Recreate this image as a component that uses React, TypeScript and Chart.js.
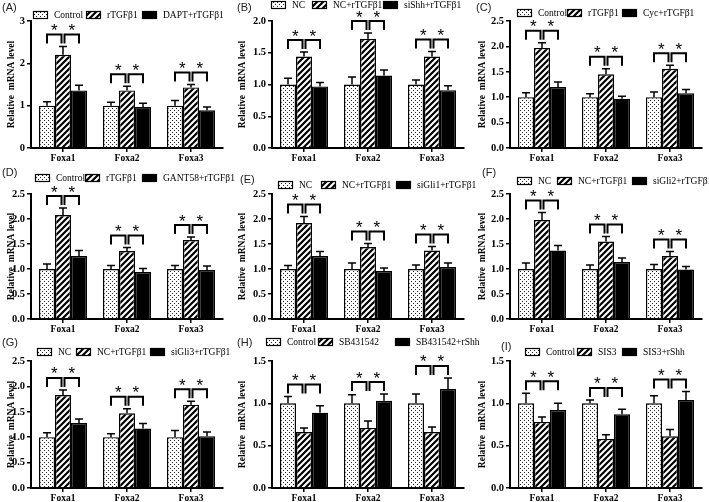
import React, { useEffect, useRef } from "react";
import { Chart, registerables } from "chart.js";

Chart.register(...registerables);

// ---------------- DATA ----------------
const CATEGORIES = ["Foxa1", "Foxa2", "Foxa3"];
const SIG_MARK = "*";

const A_SERIES = ["Control", "rTGFβ1", "DAPT+rTGFβ1"];
const A_MEANS = [[1.0, 1.0, 1.0], [2.2, 1.36, 1.43], [1.36, 0.97, 0.89]];
const A_ERRORS = [[0.09, 0.08, 0.12], [0.2, 0.1, 0.07], [0.12, 0.09, 0.08]];
const A_TICKS = ["0", "1", "2", "3"];

const B_SERIES = ["NC", "NC+rTGFβ1", "siShh+rTGFβ1"];
const B_MEANS = [[1.0, 1.0, 1.0], [1.44, 1.72, 1.44], [0.97, 1.14, 0.91]];
const B_ERRORS = [[0.1, 0.12, 0.07], [0.07, 0.09, 0.08], [0.06, 0.09, 0.07]];
const B_TICKS = ["0.0", "0.5", "1.0", "1.5", "2.0"];

const C_SERIES = ["Control", "rTGFβ1", "Cyc+rTGFβ1"];
const C_MEANS = [[1.0, 1.0, 1.0], [1.97, 1.45, 1.56], [1.2, 0.97, 1.08]];
const C_ERRORS = [[0.09, 0.07, 0.1], [0.1, 0.11, 0.07], [0.1, 0.05, 0.07]];
const C_TICKS = ["0.0", "0.5", "1.0", "1.5", "2.0", "2.5"];

const D_SERIES = ["Control", "rTGFβ1", "GANT58+rTGFβ1"];
const D_MEANS = [[1.0, 1.0, 1.0], [2.08, 1.36, 1.58], [1.26, 0.94, 0.98]];
const D_ERRORS = [[0.1, 0.07, 0.07], [0.14, 0.07, 0.06], [0.11, 0.07, 0.08]];
const D_TICKS = ["0.0", "0.5", "1.0", "1.5", "2.0", "2.5"];

const E_SERIES = ["NC", "NC+rTGFβ1", "siGli1+rTGFβ1"];
const E_MEANS = [[1.0, 1.0, 1.0], [1.92, 1.44, 1.37], [1.26, 0.96, 1.04]];
const E_ERRORS = [[0.07, 0.12, 0.08], [0.13, 0.07, 0.08], [0.09, 0.06, 0.08]];
const E_TICKS = ["0.0", "0.5", "1.0", "1.5", "2.0", "2.5"];

const F_SERIES = ["NC", "NC+rTGFβ1", "siGli2+rTGFβ1"];
const F_MEANS = [[1.0, 1.0, 1.0], [1.98, 1.55, 1.26], [1.37, 1.14, 0.99]];
const F_ERRORS = [[0.12, 0.08, 0.09], [0.15, 0.1, 0.09], [0.1, 0.08, 0.06]];
const F_TICKS = ["0.0", "0.5", "1.0", "1.5", "2.0", "2.5"];

const G_SERIES = ["NC", "NC+rTGFβ1", "siGli3+rTGFβ1"];
const G_MEANS = [[1.0, 1.0, 1.0], [1.83, 1.47, 1.64], [1.28, 1.17, 1.02]];
const G_ERRORS = [[0.09, 0.07, 0.13], [0.1, 0.09, 0.07], [0.08, 0.1, 0.08]];
const G_TICKS = ["0.0", "0.5", "1.0", "1.5", "2.0", "2.5"];

const H_SERIES = ["Control", "SB431542", "SB431542+rShh"];
const H_MEANS = [[1.0, 1.0, 1.0], [0.66, 0.71, 0.66], [0.89, 1.03, 1.17]];
const H_ERRORS = [[0.08, 0.1, 0.11], [0.05, 0.08, 0.06], [0.08, 0.08, 0.13]];
const H_TICKS = ["0.0", "0.5", "1.0", "1.5"];

const I_SERIES = ["Control", "SIS3", "SIS3+rShh"];
const I_MEANS = [[1.0, 1.0, 1.0], [0.78, 0.58, 0.61], [0.92, 0.87, 1.04]];
const I_ERRORS = [[0.12, 0.04, 0.09], [0.06, 0.05, 0.08], [0.08, 0.06, 0.1]];
const I_TICKS = ["0.0", "0.5", "1.0", "1.5"];

const Y_TITLE = "Relative  mRNA level";

// ---------------- LAYOUT ----------------
const COL_X = [0, 235, 470];
const ROW_Y = [0, 165, 330];
const CANVAS_W = [262, 262, 239];
const CANVAS_H = 172;
const AREA_LEFT = [31, 272, 510];
const AREA_RIGHT = [223, 464, 702];
const AREA_TOP = [21, 194, 361];
const AREA_BOTTOM = [148, 319, 488];
const TITLE_X = [12, 243, 483];

type Panel = {
  key: string;
  col: number;
  row: number;
  series: string[];
  means: number[][];
  errors: number[][];
  ticks: string[];
  legendX: number[];
  legendY: number;
  labelX: number;
  labelY: number;
};

const PANELS: Panel[] = [
  { key: "A", col: 0, row: 0, series: A_SERIES, means: A_MEANS, errors: A_ERRORS, ticks: A_TICKS, legendX: [33, 86, 142], legendY: 15, labelX: 2, labelY: 2 },
  { key: "B", col: 1, row: 0, series: B_SERIES, means: B_MEANS, errors: B_ERRORS, ticks: B_TICKS, legendX: [271, 312, 383], legendY: 5, labelX: 237, labelY: 2 },
  { key: "C", col: 2, row: 0, series: C_SERIES, means: C_MEANS, errors: C_ERRORS, ticks: C_TICKS, legendX: [517, 567, 622], legendY: 13, labelX: 476, labelY: 2 },
  { key: "D", col: 0, row: 1, series: D_SERIES, means: D_MEANS, errors: D_ERRORS, ticks: D_TICKS, legendX: [35, 85, 142], legendY: 178, labelX: 2, labelY: 167 },
  { key: "E", col: 1, row: 1, series: E_SERIES, means: E_MEANS, errors: E_ERRORS, ticks: E_TICKS, legendX: [278, 321, 396], legendY: 185, labelX: 240, labelY: 174 },
  { key: "F", col: 2, row: 1, series: F_SERIES, means: F_MEANS, errors: F_ERRORS, ticks: F_TICKS, legendX: [517, 557, 632], legendY: 181, labelX: 482, labelY: 167 },
  { key: "G", col: 0, row: 2, series: G_SERIES, means: G_MEANS, errors: G_ERRORS, ticks: G_TICKS, legendX: [37, 76, 150], legendY: 352, labelX: 2, labelY: 337 },
  { key: "H", col: 1, row: 2, series: H_SERIES, means: H_MEANS, errors: H_ERRORS, ticks: H_TICKS, legendX: [266, 318, 395], legendY: 342, labelX: 237, labelY: 337 },
  { key: "I", col: 2, row: 2, series: I_SERIES, means: I_MEANS, errors: I_ERRORS, ticks: I_TICKS, legendX: [525, 577, 622], legendY: 352, labelX: 501, labelY: 341 },
];

function makePatterns(ctx: CanvasRenderingContext2D) {
  const dot = document.createElement("canvas");
  dot.width = 4;
  dot.height = 4;
  const d = dot.getContext("2d")!;
  d.fillStyle = "#fff";
  d.fillRect(0, 0, 4, 4);
  d.fillStyle = "#222";
  d.fillRect(0, 0, 1, 1);
  d.fillRect(2, 2, 1, 1);

  const st = document.createElement("canvas");
  st.width = 6;
  st.height = 6;
  const s = st.getContext("2d")!;
  s.fillStyle = "#fff";
  s.fillRect(0, 0, 6, 6);
  s.strokeStyle = "#000";
  s.lineWidth = 2.2;
  s.beginPath();
  s.moveTo(-1, 7);
  s.lineTo(7, -1);
  s.moveTo(-4, 4);
  s.lineTo(4, -4);
  s.moveTo(2, 10);
  s.lineTo(10, 2);
  s.stroke();

  return [ctx.createPattern(dot, "repeat")!, ctx.createPattern(st, "repeat")!, "#000"] as (CanvasPattern | string)[];
}

function overlayPlugin(p: Panel, fills: (CanvasPattern | string)[]) {
  const cx = COL_X[p.col];
  const cy = ROW_Y[p.row];
  return {
    id: "overlay" + p.key,
    afterDatasetsDraw(chart: any) {
      const ctx: CanvasRenderingContext2D = chart.ctx;
      const y = chart.scales.y;
      ctx.save();
      ctx.strokeStyle = "#000";
      ctx.lineWidth = 1.5;
      p.means.forEach((m, i) => {
        const meta = chart.getDatasetMeta(i);
        meta.data.forEach((el: any, j: number) => {
          const top = y.getPixelForValue(m[j] + p.errors[i][j]);
          ctx.beginPath();
          ctx.moveTo(el.x, el.y);
          ctx.lineTo(el.x, top);
          ctx.moveTo(el.x - 4, top);
          ctx.lineTo(el.x + 4, top);
          ctx.stroke();
        });
      });
      ctx.lineWidth = 2;
      ctx.fillStyle = "#000";
      ctx.font = '17px "Liberation Sans"';
      ctx.textAlign = "center";
      ctx.textBaseline = "alphabetic";
      CATEGORIES.forEach((_, j) => {
        const xs = p.means.map((_m, i) => chart.getDatasetMeta(i).data[j].x);
        const tops = p.means.map((m, i) => y.getPixelForValue(m[j] + p.errors[i][j]));
        const yb = Math.min(...tops) - 12;
        const pairs = [
          [xs[0], xs[1] - 1.5],
          [xs[1] + 1.5, xs[2]],
        ];
        pairs.forEach(([a, b]) => {
          ctx.beginPath();
          ctx.moveTo(a, yb + 9);
          ctx.lineTo(a, yb);
          ctx.lineTo(b, yb);
          ctx.lineTo(b, yb + 9);
          ctx.stroke();
          ctx.fillText(SIG_MARK, (a + b) / 2, yb + 1.5);
        });
      });
      ctx.restore();
    },
    afterDraw(chart: any) {
      const ctx: CanvasRenderingContext2D = chart.ctx;
      ctx.save();
      ctx.font = '9.5px "Liberation Serif"';
      ctx.textBaseline = "middle";
      ctx.textAlign = "left";
      ctx.lineWidth = 1.2;
      ctx.strokeStyle = "#000";
      p.series.forEach((s, i) => {
        const bx = p.legendX[i] - cx;
        const by = p.legendY - cy;
        ctx.fillStyle = fills[i] as any;
        ctx.fillRect(bx, by - 3.5, 15, 7);
        ctx.strokeRect(bx + 0.5, by - 3.5, 14, 7);
        ctx.fillStyle = "#000";
        ctx.fillText(s, bx + 21, by + 0.5);
      });
      ctx.restore();
    },
  };
}

function PanelChart({ p }: { p: Panel }) {
  const ref = useRef<HTMLCanvasElement>(null);
  useEffect(() => {
    const canvas = ref.current!;
    const ctx = canvas.getContext("2d")!;
    const fills = makePatterns(ctx);
    const cx = COL_X[p.col];
    const cy = ROW_Y[p.row];
    const w = CANVAS_W[p.col];
    const yAxisW = AREA_LEFT[p.col] - cx;
    const xAxisH = CANVAS_H - (AREA_BOTTOM[p.row] - cy);
    const tickVals = p.ticks.map((t) => parseFloat(t));
    const yMax = tickVals[tickVals.length - 1];
    const step = tickVals[1] - tickVals[0];
    const chart = new Chart(ctx, {
      type: "bar",
      data: {
        labels: CATEGORIES,
        datasets: p.series.map((s, i) => ({
          label: s,
          data: p.means[i],
          backgroundColor: fills[i] as any,
          borderColor: "#000",
          borderWidth: 1.4,
          categoryPercentage: 0.75,
          barPercentage: 1.0,
        })),
      },
      options: {
        animation: false,
        responsive: false,
        events: [],
        layout: {
          padding: {
            left: 0,
            top: AREA_TOP[p.row] - cy,
            right: w - (AREA_RIGHT[p.col] - cx),
            bottom: 0,
          },
        },
        plugins: {
          legend: { display: false },
          tooltip: { enabled: false },
        },
        scales: {
          x: {
            afterFit: (scale: any) => {
              scale.height = xAxisH;
            },
            border: { display: true, color: "#000", width: 2 },
            grid: {
              display: true,
              drawOnChartArea: false,
              drawTicks: true,
              tickLength: 4,
              color: "#000",
              lineWidth: 1.5,
              offset: false,
            },
            ticks: {
              color: "#000",
              padding: 1,
              font: { family: "Liberation Serif", size: 9.5, weight: "bold" },
            },
          },
          y: {
            min: 0,
            max: yMax,
            afterFit: (scale: any) => {
              scale.width = yAxisW;
            },
            border: { display: true, color: "#000", width: 2 },
            grid: {
              display: true,
              drawOnChartArea: false,
              drawTicks: true,
              tickLength: 4,
              color: "#000",
              lineWidth: 1.5,
            },
            ticks: {
              stepSize: step,
              color: "#000",
              padding: 2,
              font: { family: "Liberation Serif", size: 10.5, weight: "bold" },
              callback: (_v: any, idx: number) => p.ticks[idx],
            },
            title: {
              display: true,
              text: Y_TITLE,
              color: "#000",
              font: { family: "Liberation Serif", size: 9.5, weight: "bold" },
              padding: { top: TITLE_X[p.col] - cx - 5.7, bottom: 0 },
            },
          },
        },
      },
      plugins: [overlayPlugin(p, fills)],
    });
    return () => chart.destroy();
  }, [p]);
  return (
    <canvas
      ref={ref}
      width={CANVAS_W[p.col]}
      height={CANVAS_H}
      style={{
        position: "absolute",
        left: COL_X[p.col],
        top: ROW_Y[p.row],
        width: CANVAS_W[p.col],
        height: CANVAS_H,
      }}
    />
  );
}

export default function App() {
  return (
    <div
      style={{
        position: "absolute",
        left: 0,
        top: 0,
        width: 709,
        height: 502,
        overflow: "hidden",
        background: "#fff",
      }}
    >
      {PANELS.map((p) => (
        <PanelChart key={p.key} p={p} />
      ))}
      {PANELS.map((p) => (
        <div
          key={"lbl" + p.key}
          style={{
            position: "absolute",
            left: p.labelX,
            top: p.labelY,
            font: '11px "Liberation Sans", Arial, sans-serif',
            lineHeight: "11px",
            color: "#222",
          }}
        >
          ({p.key})
        </div>
      ))}
    </div>
  );
}
